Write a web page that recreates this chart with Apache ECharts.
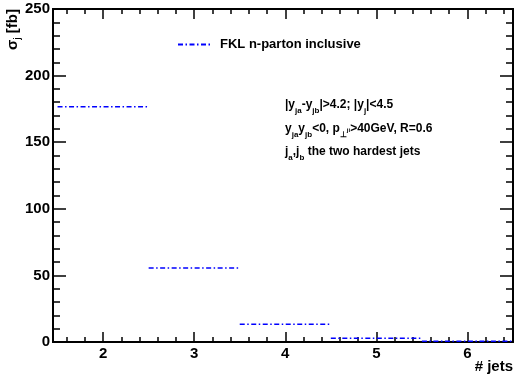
<!DOCTYPE html>
<html><head><meta charset="utf-8">
<script src="https://cdn.jsdelivr.net/npm/echarts@6/dist/echarts.min.js"></script>
<style>html,body{margin:0;padding:0;background:#fff}#c{width:517px;height:375px}</style>
</head><body><div id="c"></div>
<script>
// Data
var bins = [2, 3, 4, 5, 6];
var sigma = [176.6, 55.5, 13.3, 2.8, 0.5];
var binWidth = 1;
var xTicks = [2, 3, 4, 5, 6];
var xMinorTicks = [1.6, 1.8, 2.2, 2.4, 2.6, 2.8, 3.2, 3.4, 3.6, 3.8, 4.2, 4.4, 4.6, 4.8, 5.2, 5.4, 5.6, 5.8, 6.2, 6.4];
var seriesName = 'FKL n-parton inclusive';

var data = [];
bins.forEach(function (b, i) {
  data.push([b - binWidth / 2, sigma[i]]);
  data.push([b + binWidth / 2, sigma[i]]);
  data.push([b + binWidth / 2, null]);
});

var FONT = '"Liberation Sans", Arial, Helvetica, sans-serif';
var blk = '#000';
var DASH = [5, 2.5, 1.5, 2.5];
function xAx(pos, major, labels) {
  return {
    type: 'value', min: 1.45, max: 6.5, position: pos,
    axisLine: { show: true, onZero: false, lineStyle: { color: blk, width: 2 } },
    axisTick: { show: true, inside: true, length: major ? 10 : 5, lineStyle: { color: blk, width: 1.5 },
      customValues: major ? xTicks : xMinorTicks },
    axisLabel: { show: labels, customValues: xTicks, color: blk, fontFamily: FONT, fontWeight: 'bold', fontSize: 15, margin: 4 },
    splitLine: { show: false }
  };
}
function yAx(pos, labels) {
  return {
    type: 'value', min: 0, max: 250, interval: 50, position: pos,
    axisLine: { show: true, onZero: false, lineStyle: { color: blk, width: 2 } },
    axisTick: { show: true, inside: true, length: 13, lineStyle: { color: blk, width: 1.5 } },
    minorTick: { show: true, splitNumber: 5, length: 7, lineStyle: { color: blk, width: 1.5 } },
    axisLabel: { show: labels, color: blk, fontFamily: FONT, fontWeight: 'bold', fontSize: 15, margin: 3 },
    splitLine: { show: false }
  };
}

var chart = echarts.init(document.getElementById('c'), null, { renderer: 'canvas' });
var rich = {
  n: { fontFamily: FONT, fontWeight: 'bold', fontSize: 12, color: blk },
  s: { fontFamily: FONT, fontWeight: 'bold', fontSize: 8, color: blk, padding: [11, 0, 0, 0] },
  t: { fontFamily: FONT, fontWeight: 'bold', fontSize: 6, color: blk, padding: [3, 0, 0, 0] }
};
chart.setOption({
  animation: false,
  backgroundColor: '#fff',
  grid: { left: 53, top: 9, right: 4, bottom: 33, containLabel: false },
  xAxis: [xAx('bottom', true, true), xAx('bottom', false, false), xAx('top', true, false), xAx('top', false, false)],
  yAxis: [yAx('left', true), yAx('right', false)],
  legend: {
    show: true, orient: 'horizontal', left: 177, top: 38, right: 'auto', bottom: 'auto',
    itemWidth: 33, itemHeight: 12, itemGap: 5, padding: 0,
    data: [seriesName],
    itemStyle: { opacity: 0 },
    textStyle: { fontFamily: FONT, fontWeight: 'bold', fontSize: 13, color: blk, padding: [0, 0, 0, 4] }
  },
  series: [{
    name: seriesName, type: 'line', xAxisIndex: 0, yAxisIndex: 0,
    data: data, showSymbol: false, symbol: 'none', connectNulls: false,
    lineStyle: { color: '#0000ff', width: 1.5, type: DASH },
    itemStyle: { color: '#0000ff' }
  }],
  graphic: [
    { type: 'text', left: 285, top: 99, style: { rich: rich,
      text: '{n||y}{s|ja}{n|-y}{s|jb}{n||>4.2; |y}{s|j}{n||<4.5}' } },
    { type: 'text', left: 285, top: 123, style: { rich: rich,
      text: '{n|y}{s|ja}{n|y}{s|jb}{n|<0, p}{s|⊥}{t|ji}{n|>40GeV, R=0.6}' } },
    { type: 'text', left: 285, top: 146, style: { rich: rich,
      text: '{n|j}{s|a}{n|,j}{s|b}{n| the two hardest jets}' } },
    { type: 'text', x: 13, y: 9, rotation: Math.PI / 2,
      style: { align: 'right', verticalAlign: 'middle', rich: {
        n: { fontFamily: FONT, fontWeight: 'bold', fontSize: 15, color: blk },
        s: { fontFamily: FONT, fontWeight: 'bold', fontSize: 9, color: blk, padding: [9, 0, 0, 0] }
      }, text: '{n|σ}{s|j}{n| [fb]}' } },
    { type: 'text', right: 4, top: 359, style: { text: '# jets', fontFamily: FONT, fontWeight: 'bold', fontSize: 15, fill: blk } }
  ]
});
</script></body></html>
